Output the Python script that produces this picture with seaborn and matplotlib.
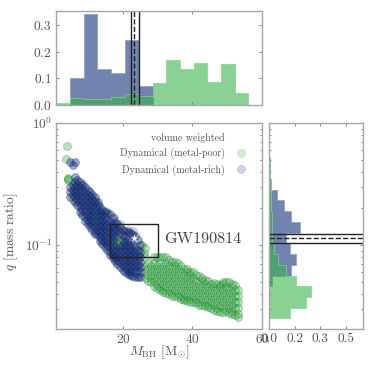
#!/usr/bin/env python
from __future__ import annotations

import matplotlib
matplotlib.use("Agg")
import matplotlib.pyplot as plt
import numpy as np
import seaborn as sns
from matplotlib.lines import Line2D
from matplotlib.patches import Rectangle

# scatter values, one list of q per mass column
rich_col_m = [4.8, 5.5, 6.2, 6.9, 7.6, 8.3, 9.1, 9.8, 10.5, 11.2, 11.9, 12.7, 13.4, 14.1, 14.8,
              15.5, 16.3, 17.0, 17.7, 18.4, 19.1, 19.9, 20.6, 21.3, 22.0, 22.7, 23.5, 24.2, 24.8]
rich_col_q = [
    [.479, .299, .272, .247],
    [.453, .31, .282, .257],
    [.479, .361, .328, .299, .272, .247, .225],
    [.341, .31, .282, .257, .234, .213],
    [.328, .299, .272, .247, .225, .205, .187],
    [.31, .282, .257, .234, .213, .194, .176],
    [.299, .272, .247, .225, .205, .187, .17, .157],
    [.282, .257, .234, .213, .194, .176, .16, .149],
    [.272, .247, .225, .205, .187, .17, .154, .14],
    [.257, .234, .213, .194, .176, .16, .146, .133],
    [.247, .225, .205, .187, .17, .154, .14, .128, .123],
    [.225, .213, .194, .176, .16, .146, .133, .121],
    [.205, .187, .17, .154, .14, .128, .116, .108],
    [.194, .176, .16, .146, .133, .121, .11, .102],
    [.187, .17, .154, .14, .128, .116, .106, .096],
    [.184, .16, .146, .133, .121, .11, .1, .091],
    [.18, .154, .14, .128, .116, .106, .096, .0875, .083],
    [.166, .146, .133, .121, .11, .1, .091, .083, .0785],
    [.154, .14, .128, .116, .096, .0875, .0796, .0735],
    [.149, .133, .091, .083, .075, .0695],
    [.14, .128, .096, .0875, .0796, .0726, .0662],
    [.133, .121, .11, .1, .091, .083, .075, .0685, .0624],
    [.13, .116, .106, .096, .0875, .0796, .0726, .0662, .0602],
    [.128, .11, .1, .091, .083, .075, .0685, .0624, .058],
    [.125, .106, .096, .0875, .0796, .0726, .0662, .0602, .0568],
    [.123, .1, .091, .083, .075, .0685, .0624, .0558],
    [.118, .096, .0875, .0796, .0726, .0662, .0602, .0549],
    [.11, .091, .083, .075, .0685, .0624, .0549],
    [.1, .0875, .0796, .0726, .0662, .0602, .0549],
]
# pale circles that stick out over the upper rim of the blue band
rich_rim_m = [8.6, 12.0, 15.2, 17.4, 21.5, 23.0, 19.0]
rich_rim_q = [.315, .235, .19, .17, .132, .13, .15]

poor_col_m = [26.3, 27.2, 28.1, 28.9, 29.8, 30.6, 31.5, 32.4, 33.2, 34.1, 35.0, 35.8, 36.7, 37.6, 38.4, 39.3,
              40.1, 41.0, 41.9, 42.7, 43.6, 44.5, 45.3, 46.2, 47.1, 47.9, 48.8, 49.6, 50.5, 51.4, 52.2, 53.1]
poor_col_q = [
    [.0945, .0796, .0672, .0602, .0535],
    [.071, .0635, .0568, .0507],
    [.0672, .0602, .0535, .0495],
    [.0796, .071, .0635, .0568, .0507, .0465],
    [.0796, .0672, .0602, .0535, .0478, .0445],
    [.0796, .071, .0635, .0568, .0507, .0454, .0428],
    [.0796, .0672, .0602, .0535, .0478, .0428, .0415],
    [.0796, .071, .0635, .0568, .0507, .0454, .0405],
    [.075, .0672, .0602, .0535, .0478, .0428, .0395],
    [.0726, .0635, .0568, .0507, .0454, .0405, .0385],
    [.0726, .0672, .0602, .0535, .0478, .0428, .0382],
    [.071, .0635, .0568, .0507, .0454, .0405, .0375],
    [.0672, .0602, .0535, .0478, .0428, .0382, .036],
    [.0635, .0568, .0507, .0454, .0405, .036, .0352],
    [.0635, .0602, .0535, .0478, .0428, .0382, .0345],
    [.0602, .0568, .0507, .0454, .0405, .036, .0341],
    [.0602, .0535, .0478, .0428, .0382, .0341],
    [.0568, .0507, .0454, .0405, .036, .0332],
    [.0555, .0478, .0428, .0382, .0341, .0325],
    [.0535, .0507, .0454, .0405, .036, .032],
    [.0517, .0478, .0428, .0382, .0341, .0316],
    [.0507, .0454, .0405, .036, .0322, .031],
    [.0478, .0428, .0382, .0341, .0305],
    [.049, .0454, .0405, .036, .0322, .0295],
    [.0478, .0428, .0382, .0341, .0305, .0287],
    [.047, .0454, .0405, .036, .0322, .0281],
    [.0497, .0478, .0428, .0382, .0341, .0305, .0281],
    [.0497, .0454, .0405, .036, .0322, .0287],
    [.0497, .0428, .0382, .0341, .0305, .0275],
    [.0478, .0454, .0405, .036, .0322, .0287, .027],
    [.047, .0428, .0382, .0341, .0305, .0267],
    [.0428, .0382, .0341, .0305, .0272, .0258],
]
# lone green points at low mass and the ones showing through the blue band
poor_low_m = [4.0, 3.6, 4.2, 4.2, 4.2, 5.6, 17.7, 18.4, 18.4, 19.1, 19.1, 18.4, 25.6, 25.9]
poor_low_q = [.652, .507, .3475, .34, .355, .234, .106, .121, .11, .11, .1, .1, .1, .086]

# histogram heights
m_edges = [0.7, 4.7, 8.7, 12.6, 16.6, 20.6, 24.5, 28.5, 32.4, 36.4, 40.3, 44.3, 48.2, 52.2, 56.1]
poor_m_hist = [.007, .026, .022, .020, .027, .040, .032, .083, .167, .136, .158, .087, .155, .045]
rich_m_hist = [0, .099, .341, .135, .120, .245, .070, 0, 0, 0, 0, 0, 0, 0]

q_edges = [.0251, .0307, .0376, .0459, .0562, .0689, .0843, .1032, .1263, .1545,
           .1892, .2317, .2838, .3467, .4246, .5200, .6368]
poor_q_hist = [.125, .214, .245, .156, .100, .050, .030, .017, .020, .017, .014, .010, .008, .004, .004, .002]
rich_q_hist = [0, 0, 0, .018, .127, .158, .121, .097, .180, .127, .088, .049, .014, .006, .006, 0]

event_name = "GW190814"
event_m = [22.3, 23.3, 24.5]
event_q = [.104, .1135, .1224]
box_m = [16.3, 30.2]
box_q = [.0797, .148]

top_ticks = [0.0, 0.1, 0.2, 0.3]
side_ticks = [0.0, 0.15, 0.30, 0.45]
side_labels = ["0.0", "0.2", "0.3", "0.5"]
main_ticks = [20, 40, 60]

POOR = "#3cb44b"
RICH = "#14307a"
W, H = 374, 374


def px_axes(fig, left, top, right, bottom):
    return fig.add_axes([left / W, 1 - bottom / H, (right - left) / W, (bottom - top) / H])


def style_axes(ax):
    ax.tick_params(which="both", direction="in", top=True, right=True, bottom=True, left=True,
                   color="0.45", labelcolor="#555555", length=2, width=0.6, labelsize=9.6, pad=3)
    ax.tick_params(which="minor", length=1.2)
    for spine in ax.spines.values():
        spine.set_color("0.65")
        spine.set_linewidth(1.0)


def flatten(col_m, col_q):
    m = [mass for mass, qs in zip(col_m, col_q) for _ in qs]
    q = [value for qs in col_q for value in qs]
    return m, q


def main() -> None:
    sns.set_theme(style="white")
    plt.rcParams["font.family"] = ["cmr10", "DejaVu Sans"]
    plt.rcParams["mathtext.fontset"] = "cm"
    plt.rcParams["axes.formatter.use_mathtext"] = True
    plt.rcParams["axes.unicode_minus"] = False

    fig = plt.figure(figsize=(W / 100, H / 100), dpi=100)
    ax_main = px_axes(fig, 56, 123, 262, 329)
    ax_top = px_axes(fig, 56, 11, 262, 104.5)
    ax_side = px_axes(fig, 269, 123, 363, 329)

    # main scatter
    rich_m, rich_q = flatten(rich_col_m, rich_col_q)
    poor_m, poor_q = flatten(poor_col_m, poor_col_q)
    sc_kw = dict(s=32, linewidth=0.5, legend=False, ax=ax_main)
    sns.scatterplot(x=poor_low_m + poor_m, y=poor_low_q + poor_q, color=POOR, edgecolor="#14591f",
                    alpha=0.36, **sc_kw)
    sns.scatterplot(x=rich_rim_m, y=rich_rim_q, color=RICH, edgecolor="#14245a", alpha=0.22, **sc_kw)
    sns.scatterplot(x=rich_m, y=rich_q, color=RICH, edgecolor="#14245a", alpha=0.42, **sc_kw)
    sns.scatterplot(x=event_m[1:2], y=event_q[1:2], color="white", marker="*", s=32,
                    linewidth=0, legend=False, ax=ax_main, zorder=5)
    ax_main.set_yscale("log")
    ax_main.set_xlim(0.72, 60)
    ax_main.set_ylim(0.0205, 1)
    ax_main.set_xticks(main_ticks)
    ax_main.add_patch(Rectangle((box_m[0], box_q[0]), box_m[1] - box_m[0], box_q[1] - box_q[0],
                                fill=False, edgecolor="#222222", linewidth=1.0, zorder=6))
    ax_main.text(31.8, 0.1115, event_name, fontsize=11.6, color="#444444", va="center", ha="left")
    ax_main.set_xlabel(r"$M_{\rm BH}$ [M$_{\odot}$]", fontsize=9.6, color="#555555", labelpad=-2)
    ax_main.set_ylabel(r"$q$ [mass ratio]", fontsize=9.6, color="#555555")
    ax_main.yaxis.set_label_coords(-0.175, 0.47)
    style_axes(ax_main)

    handles = [
        Line2D([], [], ls="", marker="o", ms=0, label="volume weighted"),
        Line2D([], [], ls="", marker="o", ms=5.5, mfc="#d2edd4", mec="#b4dcb8", mew=0.5,
               label="Dynamical (metal-poor)"),
        Line2D([], [], ls="", marker="o", ms=5.5, mfc="#ced4e4", mec="#b0b8d0", mew=0.5,
               label="Dynamical (metal-rich)"),
    ]
    ax_main.legend(handles=handles, loc="upper right", frameon=False, markerfirst=False,
                   fontsize=7.2, labelcolor="#555555", bbox_to_anchor=(0.98, 0.987),
                   labelspacing=0.52, handletextpad=0.6, borderaxespad=0.3)

    # top histogram
    m_edges_arr = np.array(m_edges)
    m_centers = (m_edges_arr[:-1] + m_edges_arr[1:]) / 2
    hist_kw = dict(stat="count", element="step", alpha=0.6, linewidth=0.5, legend=False)
    sns.histplot(x=m_centers, weights=rich_m_hist, bins=m_edges, color=RICH, edgecolor="#8d9bc4",
                 ax=ax_top, **hist_kw)
    sns.histplot(x=m_centers, weights=poor_m_hist, bins=m_edges, color=POOR, edgecolor="#7fd488",
                 ax=ax_top, **hist_kw)
    ax_top.axvline(event_m[0], color="#222222", lw=1.0)
    ax_top.axvline(event_m[1], color="#222222", lw=1.0, ls="--")
    ax_top.axvline(event_m[2], color="#222222", lw=1.0)
    ax_top.set_xlim(0.72, 60)
    ax_top.set_ylim(0, 0.354)
    ax_top.set_xticks(main_ticks[:2])
    ax_top.set_xticklabels([])
    ax_top.set_yticks(top_ticks)
    ax_top.set_ylabel("")
    style_axes(ax_top)

    # side histogram
    q_centers = np.sqrt(np.array(q_edges[:-1]) * np.array(q_edges[1:]))
    log_edges = np.log10(q_edges).tolist()
    sns.histplot(y=q_centers, weights=rich_q_hist, bins=log_edges, color=RICH, edgecolor="#8d9bc4",
                 ax=ax_side, log_scale=(False, True), **hist_kw)
    sns.histplot(y=q_centers, weights=poor_q_hist, bins=log_edges, color=POOR, edgecolor="#7fd488",
                 ax=ax_side, log_scale=(False, True), **hist_kw)
    ax_side.axhline(event_q[0], color="#222222", lw=1.0)
    ax_side.axhline(event_q[1], color="#222222", lw=1.0, ls="--")
    ax_side.axhline(event_q[2], color="#222222", lw=1.0)
    ax_side.set_xlim(0, 0.55)
    ax_side.set_ylim(0.0205, 1)
    ax_side.set_xticks(side_ticks)
    ax_side.set_xticklabels(side_labels)
    ax_side.set_xlabel("")
    ax_side.tick_params(axis="y", which="both", labelleft=False)
    style_axes(ax_side)

    fig.savefig("out.png", dpi=100)


if __name__ == "__main__":
    main()
